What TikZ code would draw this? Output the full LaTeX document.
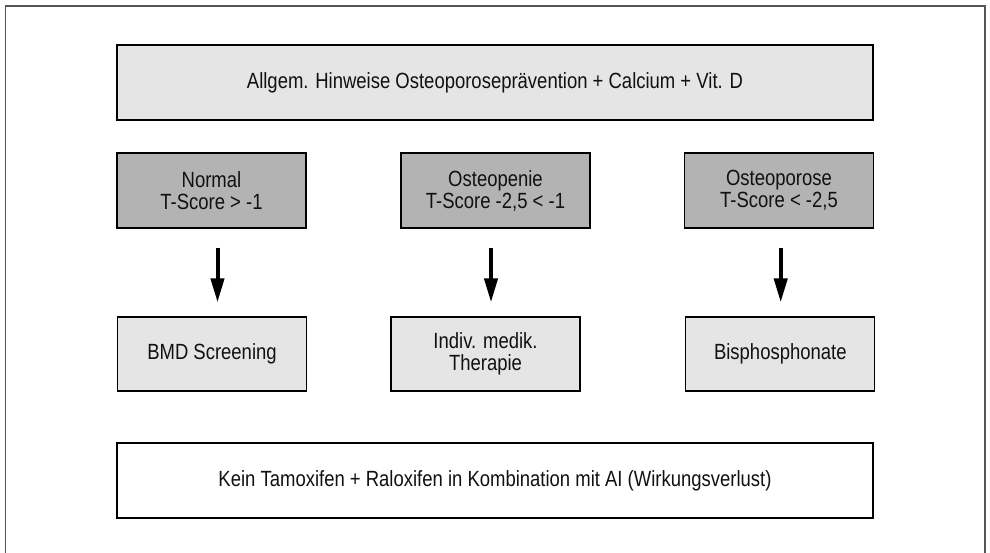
\documentclass[tikz,border=0pt]{standalone}
\usepackage{fontspec}
\setmainfont{Liberation Sans}[FakeStretch=0.84]
\usetikzlibrary{arrows.meta}

\definecolor{darkbox}{HTML}{B3B3B3}
\definecolor{lightbox}{HTML}{E5E5E5}
\definecolor{framegray}{HTML}{555555}
\definecolor{ink}{HTML}{111111}

\begin{document}
\begin{tikzpicture}[x=1pt,y=-1pt,
  box/.style={draw=black, line width=1.2pt, inner sep=0pt, align=center,
    font=\fontsize{22}{22}\selectfont, text=ink},
  widebox/.style={box, minimum width=756pt, minimum height=75pt},
  classbox/.style={box, fill=darkbox, minimum width=189pt, minimum height=75pt},
  actionbox/.style={box, fill=lightbox, minimum width=189pt, minimum height=74pt},
  bigarrow/.style={line width=4pt, -{Triangle[width=13pt,length=24pt]},
    shorten <=19pt, shorten >=14pt}]

\clip (0,0) rectangle (990,552);

% open frame around the whole scheme
\draw[framegray, line width=1.6pt] (5.5,600) -- (5.5,6) -- (985,6) -- (985,600);

% general advice
\node[widebox, fill=lightbox] (top) at (495,82.5)
  {Allgem. Hinweise Osteoporoseprävention + Calcium + Vit. D};

% bone density classes
\node[classbox] (n1) at (211.5,190.5) {Normal\\T-Score > -1};
\node[classbox] (n2) at (495.5,190.5) {Osteopenie\\T-Score -2,5 < -1};
\node[classbox] (n3) at (779,190.5) {Osteoporose\\T-Score < -2,5};

% recommended measures
\node[actionbox] (b1) at (212,354) {BMD Screening};
\node[actionbox] (b2) at (485.5,354) {Indiv. medik.\\Therapie};
\node[actionbox] (b3) at (780.3,354) {Bisphosphonate};

% warning
\node[widebox, fill=white] (bottom) at (495,480.5)
  {Kein Tamoxifen + Raloxifen in Kombination mit AI (Wirkungsverlust)};

% arrows from class to measure
\draw[bigarrow] ([xshift=6pt]n1.south) -- ([xshift=6pt]n1.south |- b1.north);
\draw[bigarrow] ([xshift=-4.5pt]n2.south) -- ([xshift=-4.5pt]n2.south |- b2.north);
\draw[bigarrow] ([xshift=1.7pt]n3.south) -- ([xshift=1.7pt]n3.south |- b3.north);

\end{tikzpicture}
\end{document}
